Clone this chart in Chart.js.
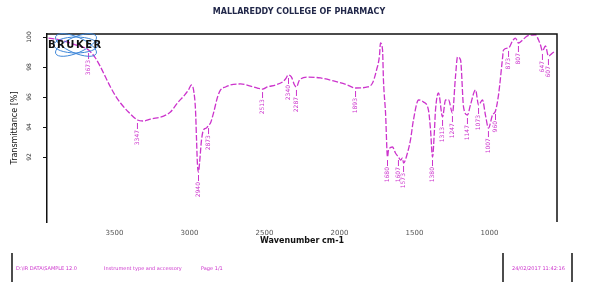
<!DOCTYPE html>
<html>
<head>
<meta charset="utf-8">
<script src="https://cdn.jsdelivr.net/npm/chart.js@4.4.0/dist/chart.umd.min.js"></script>
<style>
  html, body { margin: 0; padding: 0; background: #fff; }
  #wrap { width: 600px; height: 282px; }
</style>
</head>
<body>
<div id="wrap"><canvas id="ir"></canvas></div>
<script>
// spectrum (wavenumber cm-1 / transmittance %)
const wavenumbers = [3940,3860,3760,3673,3627,3593,3560,3527,3493,3460,
  3407,3347,3307,3260,3173,3127,3080,3033,3007,2987,
  2973,2960,2953,2947,2940,2933,2920,2907,2887,2873,
  2860,2840,2813,2793,2760,2727,2660,2593,2547,2513,
  2480,2427,2380,2360,2340,2320,2300,2287,2267,2213,
  2127,2040,1947,1893,1813,1780,1753,1733,1727,1713,
  1707,1693,1680,1673,1647,1627,1607,1593,1580,1573,
  1547,1527,1507,1473,1440,1407,1393,1380,1367,1360,
  1340,1313,1293,1273,1247,1227,1213,1193,1173,1147,
  1127,1093,1073,1047,1027,1007,980,960,940,913,
  907,873,847,827,807,780,747,713,693,673,
  660,647,627,607,580,560];
const transmittance = [99.93,99.8,99.47,99.13,98.6,98.0,97.33,96.67,96.07,95.6,
  95.0,94.47,94.4,94.53,94.73,95.0,95.6,96.13,96.47,96.8,
  96.47,95.13,93.13,91.5,91.0,91.6,93.13,93.8,93.93,94.13,
  94.27,94.93,96.0,96.47,96.67,96.8,96.87,96.73,96.6,96.53,
  96.67,96.8,97.0,97.2,97.47,97.33,96.8,96.67,97.13,97.33,
  97.27,97.07,96.8,96.6,96.67,96.93,97.8,98.8,99.6,99.13,
  97.13,94.93,92.0,92.47,92.67,92.27,92.0,91.8,91.93,91.6,
  92.27,93.13,94.47,95.8,95.67,95.13,93.8,92.0,93.8,95.13,
  96.27,94.67,95.8,95.8,94.93,97.33,98.67,98.47,95.33,94.8,
  95.47,96.47,95.47,95.8,94.8,93.93,94.8,95.07,96.13,98.6,
  99.13,99.27,99.73,99.93,99.6,99.8,100.07,100.13,100.15,99.8,
  99.47,99.07,99.4,98.73,98.93,99.07];

// picked peaks
const peakWavenumbers = [3673, 3347, 2940, 2873, 2513, 2340, 2287, 1893, 1680, 1607, 1573,
  1380, 1313, 1247, 1147, 1073, 1007, 960, 873, 807, 647, 607];

const xTickValues = [3500, 3000, 2500, 2000, 1500, 1000];
const yTickValues = [92, 94, 96, 98, 100];

const titleText = 'MALLAREDDY COLLEGE OF PHARMACY';
const footerTexts = ['D:\\IR DATA\\SAMPLE 12.0', 'Instrument type and accessory', 'Page 1/1'];
const footerDate = '24/02/2017 11:42:16';

const magenta = '#cc33cc';

function interpT(wn) {
  for (let i = 0; i < wavenumbers.length - 1; i++) {
    const a = wavenumbers[i], b = wavenumbers[i + 1];
    if (wn <= a && wn >= b) {
      const t = (a - wn) / (a - b);
      return transmittance[i] + t * (transmittance[i + 1] - transmittance[i]);
    }
  }
  return transmittance[transmittance.length - 1];
}

const extras = {
  id: 'extras',
  afterDraw(chart) {
    const ctx = chart.ctx;
    const area = chart.chartArea;
    const xs = chart.scales.x, ys = chart.scales.y;
    ctx.save();

    // frame (top + right)
    ctx.strokeStyle = '#111';
    ctx.lineWidth = 1.5;
    ctx.beginPath();
    ctx.moveTo(area.left, area.top);
    ctx.lineTo(area.right, area.top);
    ctx.lineTo(area.right, area.bottom);
    ctx.stroke();

    // title
    ctx.fillStyle = '#22284a';
    ctx.font = 'bold 8px "DejaVu Sans"';
    ctx.textAlign = 'center';
    ctx.textBaseline = 'middle';
    ctx.fillText(titleText, 299, 12);

    // y tick labels, rotated like the original
    ctx.fillStyle = '#333';
    ctx.font = '6px "DejaVu Sans"';
    yTickValues.forEach(v => {
      const py = ys.getPixelForValue(v);
      ctx.save();
      ctx.translate(29, py);
      ctx.rotate(-Math.PI / 2);
      ctx.textAlign = 'center';
      ctx.textBaseline = 'middle';
      ctx.fillText(String(v), 0, 0);
      ctx.restore();
    });

    // peak labels
    ctx.strokeStyle = magenta;
    ctx.fillStyle = magenta;
    ctx.lineWidth = 1;
    ctx.font = '6px "DejaVu Sans"';
    peakWavenumbers.forEach(wn => {
      const px = xs.getPixelForValue(wn);
      const py = ys.getPixelForValue(interpT(wn));
      ctx.beginPath();
      ctx.moveTo(px, py + 3);
      ctx.lineTo(px, py + 9);
      ctx.stroke();
      ctx.save();
      ctx.translate(px, py + 10);
      ctx.rotate(-Math.PI / 2);
      ctx.textAlign = 'right';
      ctx.textBaseline = 'middle';
      ctx.fillText(String(wn), 0, 0);
      ctx.restore();
    });

    // bruker logo
    ctx.strokeStyle = '#3d86d8';
    ctx.lineWidth = 1;
    [0, 0.4, -0.4].forEach(r => {
      ctx.beginPath();
      ctx.ellipse(76, 45, 22, 8, r, 0, Math.PI * 2);
      ctx.stroke();
    });
    ctx.fillStyle = '#111';
    ctx.font = 'bold 10px "DejaVu Sans"';
    ctx.letterSpacing = '1.5px';
    ctx.textAlign = 'left';
    ctx.textBaseline = 'middle';
    ctx.fillText('BRUKER', 48, 45);
    ctx.letterSpacing = '0px';

    // footer
    ctx.strokeStyle = '#111';
    ctx.lineWidth = 1.5;
    [12, 503, 572].forEach(fx => {
      ctx.beginPath();
      ctx.moveTo(fx, 253);
      ctx.lineTo(fx, 282);
      ctx.stroke();
    });
    ctx.fillStyle = magenta;
    ctx.font = '5px "DejaVu Sans"';
    ctx.textAlign = 'left';
    ctx.fillText(footerTexts[0], 16, 269);
    ctx.fillText(footerTexts[1], 104, 269);
    ctx.fillText(footerTexts[2], 201, 269);
    ctx.fillText(footerDate, 512, 269);
    ctx.restore();
  }
};

new Chart(document.getElementById('ir'), {
  type: 'line',
  data: {
    datasets: [{
      data: wavenumbers.map((w, i) => ({ x: w, y: transmittance[i] })),
      borderColor: magenta,
      borderWidth: 1.3,
      borderDash: [6, 2],
      pointRadius: 0,
      cubicInterpolationMode: 'monotone',
      fill: false
    }]
  },
  options: {
    responsive: true,
    maintainAspectRatio: false,
    animation: false,
    devicePixelRatio: 1,
    layout: { padding: { left: 0, top: 34, right: 43, bottom: 36 } },
    plugins: { legend: { display: false }, tooltip: { enabled: false }, title: { display: false } },
    scales: {
      x: {
        type: 'linear',
        reverse: true,
        min: 550,
        max: 3950,
        afterBuildTicks: s => { s.ticks = xTickValues.map(v => ({ value: v })); },
        afterFit: s => { s.height = 24; },
        grid: { display: false, drawTicks: false },
        border: { display: false },
        ticks: {
          color: '#555',
          font: { size: 7, family: 'DejaVu Sans' },
          padding: 7,
          maxRotation: 0,
          callback: v => String(v)
        },
        title: { display: true, text: 'Wavenumber cm-1', color: '#111', font: { size: 8, weight: 'bold', family: 'DejaVu Sans' }, padding: { top: 0, bottom: 0 } }
      },
      y: {
        min: 87.67,
        max: 100.2,
        afterBuildTicks: s => { s.ticks = yTickValues.map(v => ({ value: v })); },
        afterFit: s => { s.width = 47; },
        grid: { display: true, drawOnChartArea: false, tickLength: 4, color: '#111' },
        border: { display: true, color: '#111', width: 1.5 },
        ticks: { display: false },
        title: { display: true, text: 'Transmittance [%]', color: '#111', font: { size: 8, family: 'DejaVu Sans' }, padding: { top: 10, bottom: 0 } }
      }
    }
  },
  plugins: [extras]
});
</script>
</body>
</html>
